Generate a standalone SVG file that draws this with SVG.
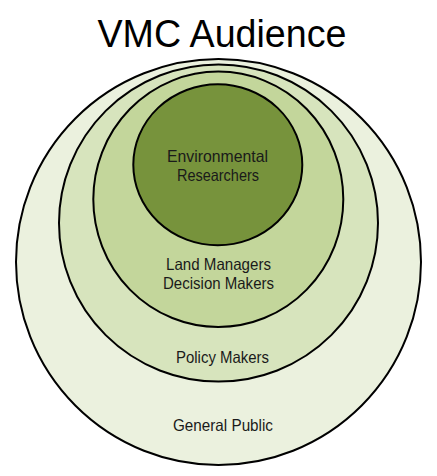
<svg xmlns="http://www.w3.org/2000/svg" width="437" height="476" viewBox="0 0 437 476">
  <style>
    .ring { stroke: #000; stroke-width: 2; }
    .lbl { font-family: "Liberation Sans", Arial, sans-serif; font-size: 16.5px; fill: #1a1a1a; text-anchor: middle; }
    .title { font-family: "Liberation Sans", Arial, sans-serif; font-size: 39px; fill: #000; text-anchor: middle; }
  </style>
  <rect width="437" height="476" fill="#fff"/>
  <text class="title" x="222" y="47" textLength="249" lengthAdjust="spacingAndGlyphs">VMC Audience</text>
  <g id="general-public">
    <ellipse class="ring" cx="218.5" cy="262" rx="202.5" ry="203" fill="#EBF1DE"/>
    <text class="lbl" x="223" y="431" textLength="100" lengthAdjust="spacingAndGlyphs">General Public</text>
  </g>
  <g id="policy-makers">
    <ellipse class="ring" cx="218.5" cy="223" rx="159.5" ry="158.6" fill="#D7E4BD"/>
    <text class="lbl" x="222.5" y="363" textLength="93" lengthAdjust="spacingAndGlyphs">Policy Makers</text>
  </g>
  <g id="land-managers">
    <ellipse class="ring" cx="218.3" cy="199.3" rx="125" ry="127.7" fill="#C3D69B"/>
    <text class="lbl" x="218.5" y="270" textLength="105" lengthAdjust="spacingAndGlyphs">Land Managers</text>
    <text class="lbl" x="218.5" y="289" textLength="111" lengthAdjust="spacingAndGlyphs">Decision Makers</text>
  </g>
  <g id="environmental-researchers">
    <ellipse class="ring" cx="217.8" cy="164.8" rx="84.5" ry="80.5" fill="#77933C"/>
    <text class="lbl" x="217.5" y="162" textLength="101" lengthAdjust="spacingAndGlyphs">Environmental</text>
    <text class="lbl" x="218" y="181" textLength="82" lengthAdjust="spacingAndGlyphs">Researchers</text>
  </g>
  <g id="connectors"></g>
</svg>
